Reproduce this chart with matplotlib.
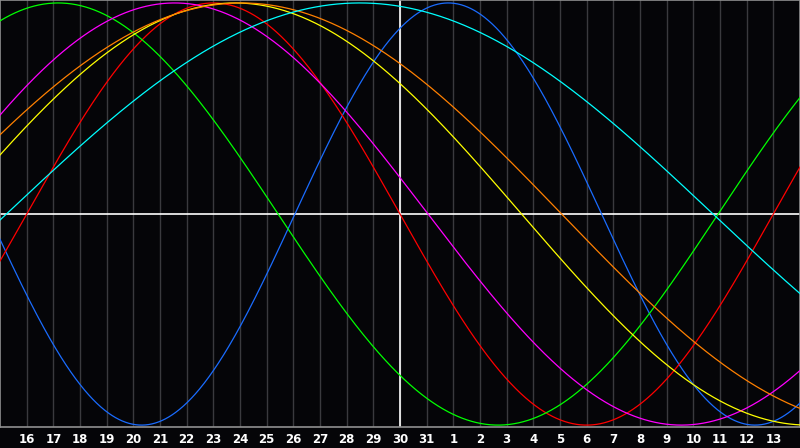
import matplotlib
matplotlib.use("Agg")
import matplotlib.pyplot as plt
import numpy as np

# day labels under the grid lines (16..31 then 1..13)
day_labels = [str(d) for d in range(16, 32)] + [str(d) for d in range(1, 14)]
day_pos = list(range(1, 30))

# cycles: period in days, day (chart position) where the wave crosses zero going down
periods = [23, 28, 33, 38, 43, 48, 53]
desc_zero = [22.56, 15.0, 10.43, 16.05, 19.56, 21.06, 26.74]
colors = ["#1a6cff", "#ff0000", "#00ff00", "#ff00ff", "#ffff00", "#ff8000", "#00ffff"]

bg = "#050508"
fig = plt.figure(figsize=(8, 4.48), dpi=100, facecolor=bg)
ax = fig.add_axes([0, 21 / 448, 1, 427 / 448], facecolor=bg)

t = np.linspace(0, 30, 1200)
for p, z, c in zip(periods, desc_zero, colors):
    ax.plot(t, -np.sin(2 * np.pi * (t - z) / p), color=c, lw=0.9, zorder=3)

for d in day_pos:
    ax.axvline(d, color="#3a3a3e", lw=1, zorder=1)
ax.axvline(15, color="white", lw=1.2, zorder=2)
ax.axhline(0, color="white", lw=1.2, zorder=2)

ax.set_xlim(0, 30)
ax.set_ylim(-1.009, 1.014)
ax.set_xticks(day_pos)
ax.set_xticklabels(day_labels, color="white", fontsize=8.5, fontweight="bold")
ax.tick_params(axis="x", length=0, pad=4)
ax.set_yticks([])
for s in ax.spines.values():
    s.set_color("#909090")
    s.set_linewidth(1.2)

fig.savefig("out.png", dpi=100, facecolor=bg)
